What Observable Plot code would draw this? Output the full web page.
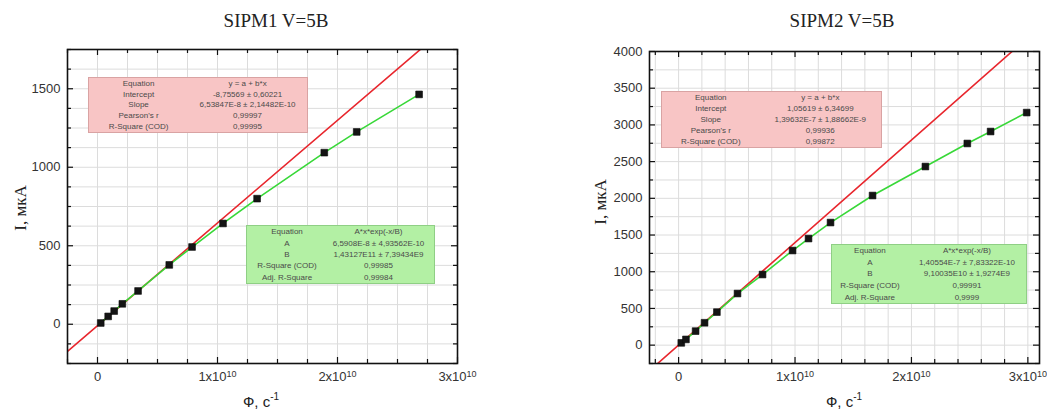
<!DOCTYPE html>
<html>
<head>
<meta charset="utf-8">
<script src="https://cdn.jsdelivr.net/npm/d3@7"></script>
<script src="https://cdn.jsdelivr.net/npm/@observablehq/plot@0.6"></script>
<style>
  body { margin: 0; background: #fff; }
  #root { position: relative; width: 1047px; height: 412px; overflow: hidden; font-family: "Liberation Sans", Arial, sans-serif; }
  .panel { position: absolute; top: 0; }
  .title { position: absolute; font-family: "Liberation Serif", "Times New Roman", serif; font-size: 19px; line-height: 19px; color: #222; white-space: nowrap; transform: translateX(-50%); }
  .ylab { position: absolute; font-family: "Liberation Serif", "Times New Roman", serif; font-size: 17px; color: #222; white-space: nowrap; transform: translate(-50%, -50%) rotate(-90deg); }
  .xlab { position: absolute; font-size: 15px; color: #222; white-space: nowrap; transform: translateX(-50%); }
  .xlab sup { font-size: 10px; position: relative; top: -1px; }
  .fit { position: absolute; box-sizing: border-box; font-size: 8px; color: #4a4a4a; }
  .fit .row { display: flex; align-items: center; }
  .fit .cell { text-align: center; white-space: nowrap; }
  .lin { background: #f8c5c5; border: 1px solid #d9a3a3; }
  .nl { background: #b3f0a4; border: 1px solid #8fcf85; }
</style>
</head>
<body>
<div id="root"></div>
<script>
// ---- SIPM1, V = 5 B ----
const flux1    = [0.27e9, 0.89e9, 1.39e9, 2.07e9, 3.38e9, 5.98e9, 7.88e9, 10.46e9, 13.3e9, 18.9e9, 21.6e9, 26.8e9];
const current1 = [8, 50, 84, 130, 212, 378, 492, 642, 800, 1093, 1225, 1464];

// ---- SIPM2, V = 5 B ----
const flux2    = [0.23e9, 0.63e9, 1.46e9, 2.23e9, 3.29e9, 5.06e9, 7.21e9, 9.79e9, 11.16e9, 13.05e9, 16.66e9, 21.2e9, 24.8e9, 26.8e9, 29.9e9];
const current2 = [31, 78, 191, 305, 450, 703, 962, 1289, 1452, 1670, 2038, 2433, 2747, 2910, 3168];

// Fit result tables
const linFit1 = [
  ["Equation", "y = a + b*x"],
  ["Intercept", "-8,75569 ± 0,60221"],
  ["Slope", "6,53847E-8 ± 2,14482E-10"],
  ["Pearson's r", "0,99997"],
  ["R-Square (COD)", "0,99995"]
];
const expFit1 = [
  ["Equation", "A*x*exp(-x/B)"],
  ["A", "6,5908E-8 ± 4,93562E-10"],
  ["B", "1,43127E11 ± 7,39434E9"],
  ["R-Square (COD)", "0,99985"],
  ["Adj. R-Square", "0,99984"]
];
const linFit2 = [
  ["Equation", "y = a + b*x"],
  ["Intercept", "1,05619 ± 6,34699"],
  ["Slope", "1,39632E-7 ± 1,88662E-9"],
  ["Pearson's r", "0,99936"],
  ["R-Square (COD)", "0,99872"]
];
const expFit2 = [
  ["Equation", "A*x*exp(-x/B)"],
  ["A", "1,40554E-7 ± 7,83322E-10"],
  ["B", "9,10035E10 ± 1,9274E9"],
  ["R-Square (COD)", "0,99991"],
  ["Adj. R-Square", "0,9999"]
];

const titles = ["SIPM1 V=5B", "SIPM2 V=5B"];
const yLabel = "I, мкА";
const xLabelHTML = "Ф, с<sup>-1</sup>";
const xTicks = [0, 1e10, 2e10, 3e10];
const yTicks1 = [0, 500, 1000, 1500];
const yTicks2 = [0, 500, 1000, 1500, 2000, 2500, 3000, 3500, 4000];

const num = s => +s.trim().replace(",", ".");
const fitValue = (table, i) => num(table[i][1].split("±")[0]);

const root = document.getElementById("root");

function xFmt(v) { return v === 0 ? "0" : `${v / 1e10}x10^10`; }

function panel(cfg) {
  const {flux, current, lin, xDomain, yDomain, xMinor, yMinor, left, width, margins} = cfg;
  const pts = flux.map((x, i) => ({x, y: current[i]}));
  const a = fitValue(lin, 1), b = fitValue(lin, 2);
  const linePts = xDomain.map(x => ({x, y: a + b * x}));
  const fw = width - margins.left - margins.right;
  const fh = 412 - margins.top - margins.bottom;
  const major = 6, minor = 4;
  const xMajor = xTicks, yMajor = cfg.yTicks;
  const xMin = xMinor.filter(v => !xMajor.includes(v));
  const yMin = yMinor.filter(v => !yMajor.includes(v));
  const tickOpts = {stroke: "#111", strokeWidth: 1.2};
  const svg = Plot.plot({
    width, height: 412,
    marginLeft: margins.left, marginRight: margins.right, marginTop: margins.top, marginBottom: margins.bottom,
    style: {background: "transparent", fontFamily: "'Liberation Sans', Arial, sans-serif", fontSize: "13px", color: "#333", overflow: "visible"},
    x: {domain: xDomain},
    y: {domain: yDomain},
    marks: [
      Plot.gridX(xMinor, {stroke: "#dcdcdc", strokeOpacity: 1}),
      Plot.gridY(yMinor, {stroke: "#dcdcdc", strokeOpacity: 1}),
      Plot.line(linePts, {x: "x", y: "y", stroke: "#e8262d", strokeWidth: 1.6, clip: true}),
      Plot.line(pts, {x: "x", y: "y", stroke: "#38d838", strokeWidth: 1.6}),
      Plot.dot(pts, {x: "x", y: "y", symbol: "square", r: 3.8, fill: "#141414", stroke: "#0a0a0a", strokeWidth: 0.6}),
      Plot.frame({stroke: "#111", strokeWidth: 1.6}),
      // inward ticks on all four sides
      Plot.tickY(yMajor, {...tickOpts, insetRight: fw - major}),
      Plot.tickY(yMajor, {...tickOpts, insetLeft: fw - major}),
      Plot.tickY(yMin, {...tickOpts, insetRight: fw - minor}),
      Plot.tickY(yMin, {...tickOpts, insetLeft: fw - minor}),
      Plot.tickX(xMajor, {...tickOpts, insetTop: fh - major}),
      Plot.tickX(xMajor, {...tickOpts, insetBottom: fh - major}),
      Plot.tickX(xMin, {...tickOpts, insetTop: fh - minor}),
      Plot.tickX(xMin, {...tickOpts, insetBottom: fh - minor}),
      Plot.axisX(xMajor, {tickSize: 0, tickPadding: 8, tickFormat: xFmt, label: null, fill: "#333"}),
      Plot.axisY(yMajor, {tickSize: 0, tickPadding: 7, tickFormat: d => String(d), label: null, fill: "#333"})
    ]
  });
  svg.classList.add("panel");
  svg.style.left = left + "px";
  // superscript powers of ten in the x tick labels
  d3.select(svg).selectAll("text").each(function () {
    const m = this.textContent.match(/^(.*)x10\^(\d+)$/);
    if (m) {
      const t = d3.select(this);
      t.text(null);
      t.append("tspan").text(m[1] + "x10");
      t.append("tspan").attr("dy", "-0.45em").attr("font-size", "9px").text(m[2]);
    }
  });
  root.appendChild(svg);
}

function fitBox(table, cls, box) {
  const div = document.createElement("div");
  div.className = "fit " + cls;
  Object.assign(div.style, {left: box.x + "px", top: box.y + "px", width: box.w + "px", height: box.h + "px"});
  const rh = (box.h - 2) / table.length;
  table.forEach(([k, v]) => {
    const row = document.createElement("div");
    row.className = "row";
    row.style.height = rh + "px";
    const c1 = document.createElement("div");
    c1.className = "cell"; c1.style.width = box.c1 + "px"; c1.textContent = k;
    const c2 = document.createElement("div");
    c2.className = "cell"; c2.style.width = box.c2 + "px"; c2.textContent = v;
    row.append(c1, c2);
    div.appendChild(row);
  });
  root.appendChild(div);
}

function label(cls, html, x, y) {
  const d = document.createElement("div");
  d.className = cls;
  d.innerHTML = html;
  d.style.left = x + "px";
  d.style.top = y + "px";
  root.appendChild(d);
}

panel({
  flux: flux1, current: current1, lin: linFit1, yTicks: yTicks1,
  xDomain: [-2.5e9, 3e10], yDomain: [-250, 1750],
  xMinor: d3.range(-2.5e9, 3.0001e10, 2.5e9), yMinor: d3.range(-250, 1751, 125),
  left: 0, width: 480, margins: {left: 67, right: 23, top: 49, bottom: 49}
});
panel({
  flux: flux2, current: current2, lin: linFit2, yTicks: yTicks2,
  xDomain: [-2.5e9, 3.1e10], yDomain: [-250, 4000],
  xMinor: d3.range(-2e9, 3.1001e10, 2e9), yMinor: d3.range(-250, 4001, 250),
  left: 560, width: 487, margins: {left: 89, right: 8, top: 51, bottom: 49}
});

fitBox(linFit1, "lin", {x: 88, y: 77, w: 220, h: 56, c1: 100, c2: 120});
fitBox(expFit1, "nl", {x: 246, y: 225, w: 189, h: 59, c1: 80, c2: 103});
fitBox(linFit2, "lin", {x: 661, y: 91, w: 221, h: 57, c1: 98, c2: 122});
fitBox(expFit2, "nl", {x: 831, y: 244, w: 196, h: 60, c1: 77, c2: 120});

label("title", titles[0], 276, 11);
label("title", titles[1], 842, 11);
label("ylab", yLabel, 21, 208);
label("ylab", yLabel, 601, 202);
label("xlab", xLabelHTML, 261, 392);
label("xlab", xLabelHTML, 844, 392);
</script>
</body>
</html>
